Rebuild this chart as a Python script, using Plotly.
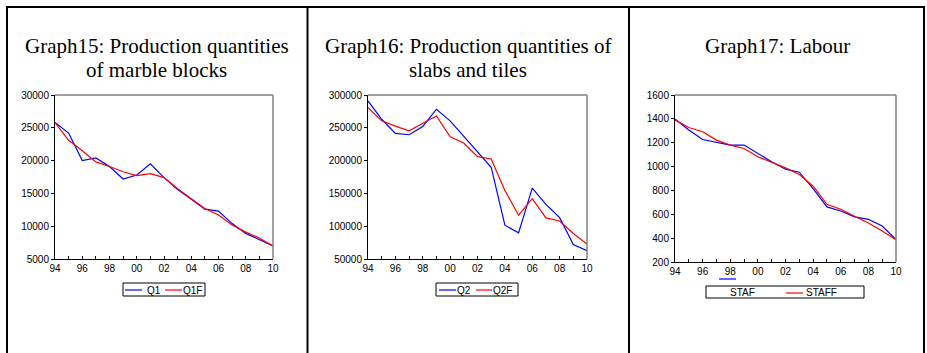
import plotly.graph_objects as go

W, H = 927, 353

years = list(range(1994, 2011))
year_labels = ["94", "", "96", "", "98", "", "00", "", "02", "", "04", "", "06", "", "08", "", "10"]

q1 = [25800, 24200, 20000, 20400, 19100, 17200, 17800, 19500, 17400, 15600, 14100, 12600, 12300, 10400, 8900, 7900, 7000]
q1f = [25800, 23100, 21500, 19800, 19100, 18300, 17700, 18000, 17400, 15700, 14200, 12700, 11700, 10200, 9100, 8200, 7000]

q2 = [290900, 263000, 241400, 239400, 252000, 278300, 260600, 236900, 213600, 189900, 101500, 89900, 158000, 133300, 113000, 72200, 62600]
q2f = [280800, 260600, 252500, 245500, 257000, 268000, 236400, 226800, 206000, 202500, 154500, 116700, 141900, 112600, 108000, 88900, 72700]

staf = [1400, 1306, 1227, 1202, 1180, 1180, 1110, 1040, 978, 953, 816, 662, 628, 578, 558, 502, 387]
staff = [1390, 1328, 1292, 1222, 1180, 1152, 1082, 1034, 989, 933, 835, 684, 642, 583, 527, 460, 387]

titles = [
    ["Graph15: Production quantities", "of marble blocks"],
    ["Graph16: Production quantities of", "slabs and tiles"],
    ["Graph17: Labour"],
]

BLUE = "#0000FF"
RED = "#FF0000"
SANS = "Liberation Sans, Arial, sans-serif"
SERIF = "Liberation Serif, Times New Roman, serif"


def px(x):
    return x / W


def py(y):
    return 1 - y / H


fig = go.Figure()

panels = [
    dict(x0=55, x1=273, y0=95, y1=259, yr=[5000, 30000], dt=5000, a=q1, b=q1f, na="Q1", nb="Q1F"),
    dict(x0=368, x1=587, y0=95, y1=259, yr=[50000, 300000], dt=50000, a=q2, b=q2f, na="Q2", nb="Q2F"),
    dict(x0=675, x1=896, y0=95, y1=262, yr=[200, 1600], dt=200, a=staf, b=staff, na="STAF", nb="STAFF"),
]

shapes = []
annotations = []

for i, p in enumerate(panels):
    sfx = "" if i == 0 else str(i + 1)
    xa, ya = "x" + sfx, "y" + sfx
    fig.add_trace(go.Scatter(x=years, y=p["a"], mode="lines", line=dict(color=BLUE, width=1.2),
                             xaxis=xa, yaxis=ya, name=p["na"], showlegend=False))
    fig.add_trace(go.Scatter(x=years, y=p["b"], mode="lines", line=dict(color=RED, width=1.2),
                             xaxis=xa, yaxis=ya, name=p["nb"], showlegend=False))
    fig.layout["xaxis" + sfx] = dict(
        domain=[px(p["x0"]), px(p["x1"])], range=[1994, 2010], anchor=ya, automargin=False,
        tickvals=years, ticktext=year_labels, ticks="inside", ticklen=3, tickcolor="black",
        showline=True, linecolor="black", linewidth=1, showgrid=False, zeroline=False,
        tickfont=dict(family=SANS, size=10, color="black"), fixedrange=True,
    )
    fig.layout["yaxis" + sfx] = dict(
        domain=[py(p["y1"]), py(p["y0"])], range=p["yr"], dtick=p["dt"], anchor=xa, automargin=False,
        tickformat="d", ticks="outside", ticklen=3, tickcolor="black",
        showline=True, linecolor="black", linewidth=1, showgrid=False, zeroline=False,
        tickfont=dict(family=SANS, size=10, color="black"), fixedrange=True,
    )
    shapes.append(dict(type="line", xref="paper", yref="paper", x0=px(p["x0"]), x1=px(p["x1"]),
                       y0=py(p["y0"]), y1=py(p["y0"]), line=dict(color="#808080", width=1.5)))
    shapes.append(dict(type="line", xref="paper", yref="paper", x0=px(p["x1"]), x1=px(p["x1"]),
                       y0=py(p["y0"]), y1=py(p["y1"]), line=dict(color="#808080", width=1.5)))

for xb in [7, 307.5, 629, 924]:
    shapes.append(dict(type="line", xref="paper", yref="paper", x0=px(xb), x1=px(xb), y0=py(6), y1=py(353),
                       line=dict(color="black", width=2)))
shapes.append(dict(type="line", xref="paper", yref="paper", x0=px(6), x1=px(925), y0=py(7), y1=py(7),
                   line=dict(color="black", width=2)))

title_centers = [156.5, 468, 777]
for tc, lines in zip(title_centers, titles):
    for k, t in enumerate(lines):
        annotations.append(dict(text=t, x=px(tc), y=py(46 + 24 * k), xref="paper", yref="paper",
                                xanchor="center", yanchor="middle", showarrow=False,
                                font=dict(family=SERIF, size=21, color="black")))


def legend_box(x0, x1, y0, y1):
    shapes.append(dict(type="rect", xref="paper", yref="paper", x0=px(x0), x1=px(x1), y0=py(y1), y1=py(y0),
                       line=dict(color="black", width=1), layer="above"))


def seg(x0, x1, y, color):
    shapes.append(dict(type="line", xref="paper", yref="paper", x0=px(x0), x1=px(x1), y0=py(y), y1=py(y),
                       line=dict(color=color, width=1.2)))


def label(text, x, y, anchor="left"):
    annotations.append(dict(text=text, x=px(x), y=py(y), xref="paper", yref="paper", xanchor=anchor,
                            yanchor="middle", showarrow=False, borderpad=0,
                            font=dict(family=SANS, size=10, color="black")))


seg(125, 142, 290, BLUE)
label(panels[0]["na"], 146, 290)
seg(165, 182, 290, RED)
label(panels[0]["nb"], 182, 290)
legend_box(123, 205, 283, 296)

seg(439, 456, 290, BLUE)
label(panels[1]["na"], 456, 290)
seg(476, 492, 290, RED)
label(panels[1]["nb"], 492, 290)
legend_box(436, 518, 283, 296)

seg(719, 736, 279, BLUE)
label(panels[2]["na"], 742, 292, "center")
seg(786, 803, 293, RED)
label(panels[2]["nb"], 821.5, 292, "center")
legend_box(706, 864, 286, 298)

fig.update_layout(
    width=W, height=H, margin=dict(l=0, r=0, t=0, b=0, pad=0, autoexpand=False),
    paper_bgcolor="white", plot_bgcolor="white", showlegend=False,
    shapes=shapes, annotations=annotations,
)

fig.write_html("out.html", config={"displayModeBar": False})
